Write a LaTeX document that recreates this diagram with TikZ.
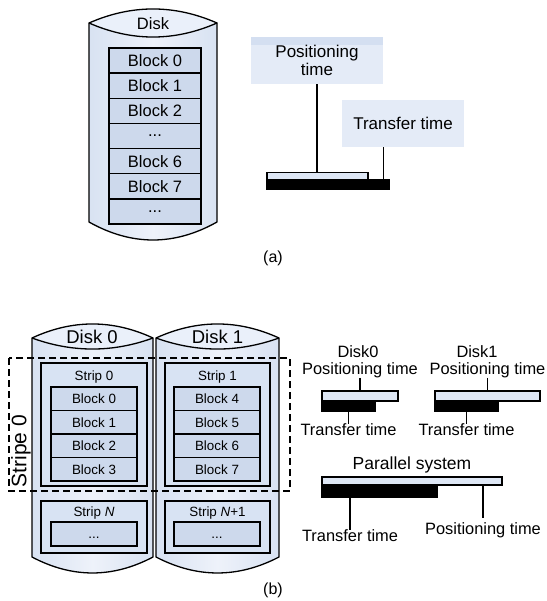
\documentclass[tikz,border=0pt]{standalone}
\usepackage{fontspec}
\setmainfont{Liberation Sans}
\usetikzlibrary{calc}
\definecolor{cylA}{RGB}{216,226,242}
\definecolor{cylB}{RGB}{238,242,250}
\definecolor{topfill}{RGB}{234,240,250}
\definecolor{blkfill}{RGB}{205,217,236}
\definecolor{stripfill}{RGB}{216,227,243}
\definecolor{tfill}{RGB}{228,235,247}
\definecolor{tband}{RGB}{212,223,241}
\definecolor{barfill}{RGB}{222,231,245}
\tikzset{
 lbl/.style={inner sep=0pt, font=\fontsize{16.5}{19}\selectfont},
 blkA/.style={draw, line width=1.5pt, fill=blkfill, minimum width=92pt, minimum height=25.14pt, inner sep=0pt, font=\fontsize{16.5}{19}\selectfont},
 blkB/.style={draw, line width=1.4pt, fill=blkfill, minimum width=86pt, minimum height=23.5pt, inner sep=0pt, font=\fontsize{13.4}{15}\selectfont},
 stripbox/.style={draw, line width=1.4pt, fill=stripfill, inner sep=0pt},
 striplbl/.style={inner sep=0pt, font=\fontsize{13.4}{15}\selectfont},
 wbar/.style={draw, line width=1.3pt, fill=barfill, inner sep=0pt},
 kbar/.style={draw, line width=1.3pt, fill=black, inner sep=0pt},
 conn/.style={line width=1.4pt},
 tlab/.style={inner sep=0pt, font=\fontsize{16.4}{18}\selectfont},
 cylline/.style={draw=black, line width=1.3pt},
}
\begin{document}
\begin{tikzpicture}[x=1pt,y=-1pt]
\useasboundingbox (0,0) rectangle (546,601);

% ---------- (a) disk ----------
\shade[left color=cylA, right color=cylA, middle color=cylB]
  (89,23) .. controls (131.7,4.3) and (174.3,4.3) .. (217,23) -- (217,222)
  .. controls (174.3,246) and (131.7,246) .. (89,222) -- cycle;
\fill[topfill] (89,23) .. controls (131.7,4.3) and (174.3,4.3) .. (217,23)
  .. controls (174.3,41.7) and (131.7,41.7) .. (89,23);
\draw[cylline] (89,23) .. controls (131.7,4.3) and (174.3,4.3) .. (217,23) -- (217,222)
  .. controls (174.3,246) and (131.7,246) .. (89,222) -- cycle;
\draw[cylline] (89,23) .. controls (131.7,41.7) and (174.3,41.7) .. (217,23);
\node[lbl] (diska) at (153,24) {Disk};

\node[blkA] (a0) at (155,60.57) {Block 0};
\node[blkA] (a1) at (155,85.71) {Block 1};
\node[blkA] (a2) at (155,110.86) {Block 2};
\node[blkA] (a3) at (155,136) {...};
\node[blkA] (a4) at (155,161.14) {Block 6};
\node[blkA] (a5) at (155,186.29) {Block 7};
\node[blkA] (a6) at (155,211.43) {...};

% ---------- (a) timing ----------
\fill[tfill] (251,37) rectangle (383,84);
\fill[tband] (251,37) rectangle (383,45);
\node[lbl, align=center, minimum width=132pt, minimum height=47pt, font=\fontsize{17}{18}\selectfont] (posa) at (317,60.5) {Positioning\\time};
\fill[tfill] (342,100) rectangle (464,147);
\node[lbl, minimum width=122pt, minimum height=47pt, font=\fontsize{17}{18}\selectfont] (tra) at (403,123.5) {Transfer time};

\node[kbar, minimum width=122pt, minimum height=9.5pt] (ka) at (328,184.25) {};
\node[wbar, minimum width=101pt, minimum height=7pt] (wa) at (317.5,176) {};
\draw[conn] (posa.south) -- (posa.south |- wa.north);
\coordinate (tca) at ([xshift=-6pt]ka.north east);
\draw[conn] (tca |- tra.south) -- (tca);

\node[lbl, font=\fontsize{16}{18}\selectfont] (capa) at (273,258) {(a)};

% ---------- (b) disks ----------
\shade[left color=cylA, right color=cylA, middle color=cylB]
  (32,338) .. controls (72.3,319.3) and (112.7,319.3) .. (153,338) -- (153,557)
  .. controls (112.7,578.3) and (72.3,578.3) .. (32,557) -- cycle;
\fill[topfill] (32,338) .. controls (72.3,319.3) and (112.7,319.3) .. (153,338)
  .. controls (112.7,352.7) and (72.3,352.7) .. (32,338);
\draw[cylline] (32,338) .. controls (72.3,319.3) and (112.7,319.3) .. (153,338) -- (153,557)
  .. controls (112.7,578.3) and (72.3,578.3) .. (32,557) -- cycle;
\draw[cylline] (32,338) .. controls (72.3,352.7) and (112.7,352.7) .. (153,338);

\shade[left color=cylA, right color=cylA, middle color=cylB]
  (156,338) .. controls (197,319.3) and (238,319.3) .. (279,338) -- (279,557)
  .. controls (238,578.3) and (197,578.3) .. (156,557) -- cycle;
\fill[topfill] (156,338) .. controls (197,319.3) and (238,319.3) .. (279,338)
  .. controls (238,352.7) and (197,352.7) .. (156,338);
\draw[cylline] (156,338) .. controls (197,319.3) and (238,319.3) .. (279,338) -- (279,557)
  .. controls (238,578.3) and (197,578.3) .. (156,557) -- cycle;
\draw[cylline] (156,338) .. controls (197,352.7) and (238,352.7) .. (279,338);

\node[lbl, font=\fontsize{18.5}{20}\selectfont] (disk0) at (92,336.5) {Disk 0};
\node[lbl, font=\fontsize{18.5}{20}\selectfont] (disk1) at (217.5,336.5) {Disk 1};

\draw[line width=1.1pt, dash pattern=on 7pt off 4pt] (9,358) rectangle (290,491);
\node[inner sep=0pt, rotate=90, font=\fontsize{21}{23}\selectfont] (stripe) at (21,451) {Stripe 0};

% strip 0
\node[stripbox, minimum width=106pt, minimum height=123pt] (s0) at (94,424.5) {};
\node[striplbl] (s0l) at (94,377) {Strip 0};
\node[blkB] (b0) at (94,398.75) {Block 0};
\node[blkB] (b1) at (94,422.25) {Block 1};
\node[blkB] (b2) at (94,445.75) {Block 2};
\node[blkB] (b3) at (94,469.25) {Block 3};
% strip 1
\node[stripbox, minimum width=105pt, minimum height=123pt] (s1) at (217.5,424.5) {};
\node[striplbl] (s1l) at (217.5,377) {Strip 1};
\node[blkB] (b4) at (217,398.75) {Block 4};
\node[blkB] (b5) at (217,422.25) {Block 5};
\node[blkB] (b6) at (217,445.75) {Block 6};
\node[blkB] (b7) at (217,469.25) {Block 7};
% strip N
\node[stripbox, minimum width=106pt, minimum height=52pt] (sn) at (94,527) {};
\node[striplbl] (snl) at (94,513) {Strip \textit{N}};
\node[blkB, minimum height=24pt, text height=9.5pt, text depth=0pt] (bn) at (94,534) {...};
\node[stripbox, minimum width=105pt, minimum height=52pt] (sn1) at (217.5,527) {};
\node[striplbl] (sn1l) at (217.5,513) {Strip \textit{N}+1};
\node[blkB, minimum height=24pt, text height=9.5pt, text depth=0pt] (bn1) at (217,534) {...};

\node[lbl, font=\fontsize{16}{18}\selectfont] (capb) at (273,590) {(b)};

% ---------- (b) timing ----------
\node[tlab] (d0) at (358,352) {Disk0};
\node[tlab] (p0) at (360,370) {Positioning time};
\node[kbar, minimum width=53pt, minimum height=10pt] (k0) at (348.5,406) {};
\node[wbar, minimum width=76pt, minimum height=10pt] (w0) at (360,396) {};
\node[tlab] (t0) at (348.5,430) {Transfer time};
\draw[conn] (p0.south) -- (p0.south |- w0.north);
\draw[conn] (k0.south) -- (k0.south |- t0.north);

\node[tlab] (d1) at (477,352) {Disk1};
\node[tlab] (p1) at (487.5,370) {Positioning time};
\node[kbar, minimum width=63pt, minimum height=10pt] (k1) at (466.5,406) {};
\node[wbar, minimum width=105pt, minimum height=10pt] (w1) at (487.5,396) {};
\node[tlab] (t1) at (466.5,430) {Transfer time};
\draw[conn] (p1.south) -- (p1.south |- w1.north);
\draw[conn] (k1.south) -- (k1.south |- t1.north);

\node[tlab, font=\fontsize{17.5}{19}\selectfont] (ps) at (412,465) {Parallel system};
\node[kbar, minimum width=115pt, minimum height=12pt] (kp) at (379.5,491) {};
\node[wbar, minimum width=180pt, minimum height=8pt] (wp) at (412,481) {};
\node[tlab] (tp) at (350,536) {Transfer time};
\node[tlab] (pp) at (483,530) {Positioning time};
\draw[conn] (tp.north |- kp.south) -- (tp.north);
\draw[conn] (pp.north |- wp.south) -- ([yshift=4pt]pp.north);
\end{tikzpicture}
\end{document}
